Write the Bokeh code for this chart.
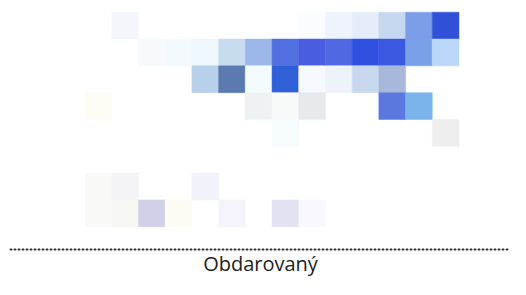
from bokeh.plotting import figure
from bokeh.models import ColumnDataSource, Range1d, FixedTicker
from bokeh.embed import file_html
from bokeh.resources import INLINE

# Heatmap cells: column index, row index (0 = top), cell colour
cols = [1, 8, 9, 10, 11, 12, 13,
        2, 3, 4, 5, 6, 7, 8, 9, 10, 11, 12, 13,
        4, 5, 6, 7, 8, 9, 10, 11,
        0, 6, 7, 8, 11, 12,
        7, 13,
        0, 1, 4,
        0, 1, 2, 3, 5, 7, 8]
rows = [0, 0, 0, 0, 0, 0, 0,
        1, 1, 1, 1, 1, 1, 1, 1, 1, 1, 1, 1,
        2, 2, 2, 2, 2, 2, 2, 2,
        3, 3, 3, 3, 3, 3,
        4, 4,
        6, 6, 6,
        7, 7, 7, 7, 7, 7, 7]
colors = ["#f3f7fc", "#fafcfe", "#eff3fc", "#e6ecfa", "#c6d8f0", "#7c9ee8", "#3050d8",
          "#f6fafd", "#f4f9fd", "#eef7fd", "#c8dcf0", "#9cb8ea", "#5070e0", "#4a5ce0",
          "#5068e2", "#3050e0", "#3a58e0", "#7aa0e8", "#bad6f8",
          "#b8d0ea", "#5a7ab0", "#f4fbfe", "#3060d8", "#f6f9fe", "#eef3fa", "#c8d8ee", "#a8b8da",
          "#fdfdf6", "#eef2f2", "#f8fafa", "#e6eaec", "#5a78e0", "#7ab4ea",
          "#f6fbfd", "#eeeeee",
          "#f9f9f7", "#f4f4f6", "#f2f2fa",
          "#f9f9f7", "#f7f7f4", "#d0d0e8", "#fcfcf4", "#f4f4fa", "#e2e2f2", "#f8f8fe"]

x_label = "Obdarovaný"

src = ColumnDataSource(dict(
    x=[c + 0.5 for c in cols],
    y=[r + 0.5 for r in rows],
    color=colors,
))

p = figure(width=510, height=279, output_backend="svg", toolbar_location=None,
           x_range=Range1d(-2.794, 15.93), y_range=Range1d(8.85, -0.438),
           min_border_left=10, min_border_right=0, min_border_top=0, min_border_bottom=0)

p.rect(x="x", y="y", width=1, height=1, source=src,
       fill_color="color", line_color="color", line_width=0.5)

p.outline_line_color = None
p.grid.visible = False
p.yaxis.visible = False

ax = p.xaxis[0]
ax.ticker = FixedTicker(ticks=[])
ax.major_tick_line_color = None
ax.minor_tick_line_color = None
ax.major_tick_out = 0
ax.major_tick_in = 0
ax.major_label_standoff = 0
ax.axis_line_color = "#333333"
ax.axis_line_width = 2
ax.axis_line_dash = "1 3"
ax.axis_line_cap = "round"
ax.axis_label = x_label
ax.axis_label_text_font = "Open Sans"
ax.axis_label_text_font_style = "normal"
ax.axis_label_text_font_size = "20px"
ax.axis_label_text_color = "#222222"
ax.axis_label_standoff = 0

open("out.html", "w").write(file_html(p, INLINE))
